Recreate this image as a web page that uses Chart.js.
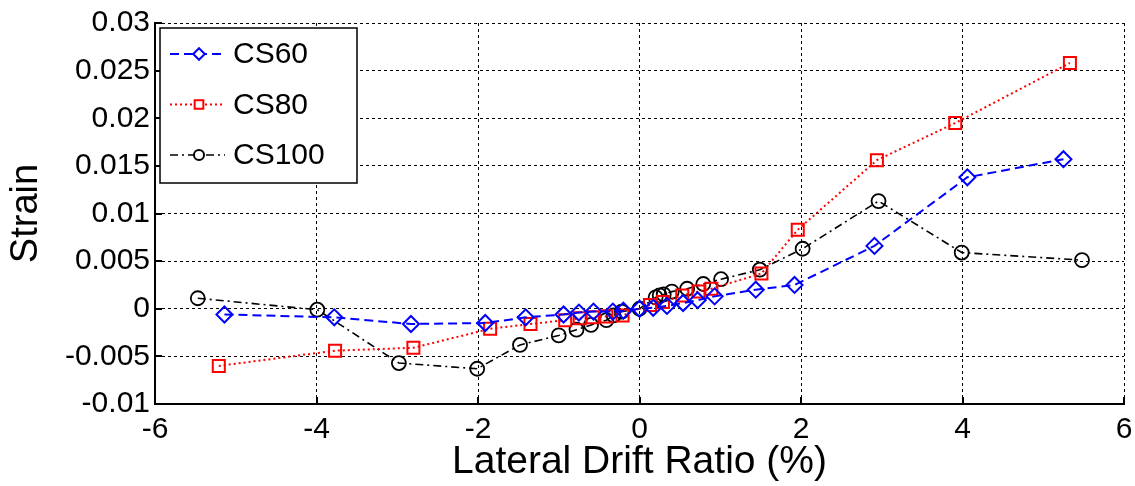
<!DOCTYPE html>
<html>
<head>
<meta charset="utf-8">
<script src="https://cdn.jsdelivr.net/npm/chart.js@4/dist/chart.umd.min.js"></script>
<style>
  html, body { margin: 0; padding: 0; background: #fff; }
  #wrap { width: 1135px; height: 486px; }
</style>
</head>
<body>
<div id="wrap"><canvas id="strainChart" width="1135" height="486"></canvas></div>
<script>
// Data
let seriesNames = ['CS60', 'CS80', 'CS100'];

let cs60Drift = [-5.14, -3.78, -2.83, -1.91, -1.41, -0.94, -0.75, -0.57, -0.33, -0.2, 0, 0.17, 0.34, 0.54, 0.72, 0.93, 1.44, 1.92, 2.91, 4.06, 5.25];
let cs60Strain = [-0.0006, -0.0009, -0.0016, -0.0015, -0.0009, -0.0006, -0.0004, -0.0003, -0.0003, -0.0002, 0, 0.0001, 0.0003, 0.0006, 0.0009, 0.0013, 0.0020, 0.0025, 0.0066, 0.0138, 0.0157];

let cs80Drift = [-5.21, -3.77, -2.8, -1.85, -1.35, -0.92, -0.74, -0.58, -0.41, -0.21, 0.13, 0.29, 0.53, 0.73, 0.89, 1.51, 1.96, 2.94, 3.91, 5.33];
let cs80Strain = [-0.006, -0.0044, -0.0041, -0.0021, -0.0016, -0.0012, -0.001, -0.0009, -0.0008, -0.0007, 0.0004, 0.0007, 0.0014, 0.0018, 0.0021, 0.0037, 0.0083, 0.0156, 0.0195, 0.0258];

let cs100Drift = [-5.47, -3.99, -2.98, -2.01, -1.48, -1.0, -0.78, -0.6, -0.41, -0.32, -0.22, 0, 0.2, 0.25, 0.3, 0.4, 0.59, 0.79, 1.01, 1.49, 2.02, 2.96, 3.99, 5.48];
let cs100Strain = [0.0011, -0.0001, -0.0057, -0.0063, -0.0038, -0.0028, -0.0022, -0.0017, -0.0012, -0.0007, -0.0003, 0, 0.0012, 0.0014, 0.0015, 0.0018, 0.0021, 0.0026, 0.0031, 0.0041, 0.0063, 0.0113, 0.0059, 0.0051];

let xTicks = [-6, -4, -2, 0, 2, 4, 6];
let yTicks = [-0.01, -0.005, 0, 0.005, 0.01, 0.015, 0.02, 0.025, 0.03];

const FONT = '"Liberation Sans", Arial, sans-serif';

// Helper to pair up x and y arrays
function toPoints(xs, ys) {
    return xs.map((x, i) => ({ x: x, y: ys[i] }));
}

// Inward tick marks on the left and bottom axes
const innerTicks = {
    id: 'innerTicks',
    afterDraw(chart) {
        let ctx = chart.ctx;
        let area = chart.chartArea;
        let xs = chart.scales.x, ys = chart.scales.y;
        ctx.save();
        ctx.strokeStyle = '#000';
        ctx.lineWidth = 2;
        ctx.beginPath();
        xTicks.forEach(v => {
            let px = Math.round(xs.getPixelForValue(v));
            ctx.moveTo(px, area.bottom);
            ctx.lineTo(px, area.bottom - 7);
        });
        yTicks.forEach(v => {
            let py = Math.round(ys.getPixelForValue(v));
            ctx.moveTo(area.left, py);
            ctx.lineTo(area.left + 7, py);
        });
        ctx.stroke();
        ctx.restore();
    }
};

// Legend box drawn like the original (line sample + marker)
const boxLegend = {
    id: 'boxLegend',
    afterDraw(chart) {
        let ctx = chart.ctx;
        let area = chart.chartArea;
        let left = area.left + 5, top = area.top + 5;
        let w = 197, h = 155;
        ctx.save();
        ctx.fillStyle = '#fff';
        ctx.fillRect(left, top, w, h);
        ctx.strokeStyle = '#000';
        ctx.lineWidth = 1.5;
        ctx.strokeRect(left, top, w, h);

        chart.data.datasets.forEach((ds, i) => {
            let cy = top + 26 + i * 50.5;
            ctx.strokeStyle = ds.borderColor;
            ctx.lineWidth = ds.borderWidth;
            ctx.setLineDash(ds.borderDash || []);
            ctx.beginPath();
            ctx.moveTo(left + 10, cy);
            ctx.lineTo(left + 65, cy);
            ctx.stroke();
            ctx.setLineDash([]);
            ctx.lineWidth = 2;
            ctx.fillStyle = '#fff';
            ctx.strokeStyle = ds.pointBorderColor;
            Chart.helpers.drawPoint(ctx, {
                pointStyle: ds.pointStyle,
                radius: ds.pointRadius * 0.72,
                borderWidth: 2,
                rotation: 0
            }, left + 39, cy);
            ctx.fillStyle = '#000';
            ctx.font = '30px ' + FONT;
            ctx.textBaseline = 'middle';
            ctx.textAlign = 'left';
            ctx.fillText(ds.label, left + 73, cy + 1);
        });
        ctx.restore();
    }
};

let ctx = document.getElementById('strainChart').getContext('2d');

new Chart(ctx, {
    type: 'scatter',
    data: {
        datasets: [{
            label: seriesNames[0],
            data: toPoints(cs60Drift, cs60Strain),
            showLine: true,
            borderColor: '#0000ff',
            backgroundColor: 'transparent',
            borderWidth: 2,
            borderDash: [9, 5],
            pointStyle: 'rectRot',
            pointRadius: 8,
            pointBorderWidth: 2,
            pointBorderColor: '#0000ff',
            pointBackgroundColor: 'transparent'
        }, {
            label: seriesNames[1],
            data: toPoints(cs80Drift, cs80Strain),
            showLine: true,
            borderColor: '#ff0000',
            backgroundColor: 'transparent',
            borderWidth: 2,
            borderDash: [2, 3],
            pointStyle: 'rect',
            pointRadius: 8.5,
            pointBorderWidth: 2,
            pointBorderColor: '#ff0000',
            pointBackgroundColor: 'transparent'
        }, {
            label: seriesNames[2],
            data: toPoints(cs100Drift, cs100Strain),
            showLine: true,
            borderColor: '#000000',
            backgroundColor: 'transparent',
            borderWidth: 1.6,
            borderDash: [8, 4, 2, 4],
            pointStyle: 'circle',
            pointRadius: 7,
            pointBorderWidth: 1.8,
            pointBorderColor: '#000000',
            pointBackgroundColor: 'transparent'
        }]
    },
    options: {
        responsive: false,
        animation: false,
        layout: { padding: { left: 0, right: 0, top: 22, bottom: 0 } },
        plugins: {
            legend: { display: false },
            tooltip: { enabled: false }
        },
        scales: {
            x: {
                type: 'linear',
                min: -6,
                max: 6,
                afterFit(scale) {
                    scale.height = 82;
                    scale.paddingRight = 11;
                    scale.paddingLeft = 0;
                },
                afterBuildTicks(scale) { scale.ticks = xTicks.map(v => ({ value: v })); },
                ticks: {
                    color: '#000',
                    padding: 8,
                    maxRotation: 0,
                    font: { family: FONT, size: 30 }
                },
                grid: { color: '#000', lineWidth: 1, drawTicks: false },
                border: { color: '#000', width: 2, dash: [3, 3] },
                title: {
                    display: true,
                    text: 'Lateral Drift Ratio (%)',
                    color: '#000',
                    padding: { top: 0, bottom: 0 },
                    font: { family: FONT, size: 39 }
                }
            },
            y: {
                type: 'linear',
                min: -0.01,
                max: 0.03,
                afterFit(scale) { scale.width = 155; },
                afterBuildTicks(scale) { scale.ticks = yTicks.map(v => ({ value: v })); },
                ticks: {
                    color: '#000',
                    padding: 5,
                    font: { family: FONT, size: 30 },
                    callback: v => String(+v.toFixed(3))
                },
                grid: { color: '#000', lineWidth: 1, drawTicks: false },
                border: { color: '#000', width: 2, dash: [3, 3] },
                title: {
                    display: true,
                    text: 'Strain',
                    color: '#000',
                    padding: { top: 4, bottom: 0 },
                    font: { family: FONT, size: 38 }
                }
            }
        }
    },
    plugins: [innerTicks, boxLegend]
});
</script>
</body>
</html>
